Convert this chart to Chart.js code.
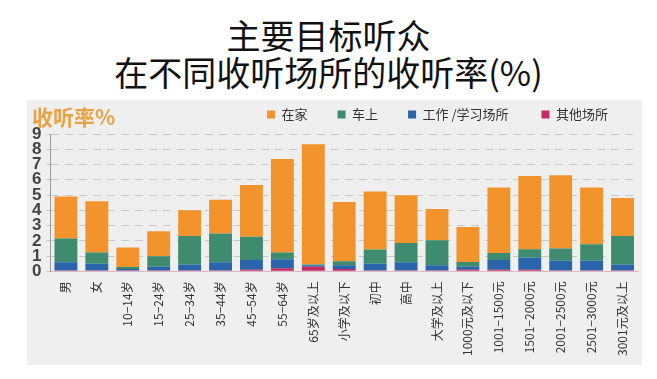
<!DOCTYPE html>
<html>
<head>
<meta charset="utf-8">
<script src="https://cdn.jsdelivr.net/npm/chart.js@4"></script>
<style>
  body { margin: 0; width: 657px; height: 379px; background: #fff; position: relative; overflow: hidden;
         font-family: "Noto Sans CJK SC", "Noto Sans", sans-serif; }
  .t { position: absolute; left: 0; width: 657px; text-align: center; color: #111; font-size: 34px; line-height: 38px; }
  #t1 { top: 16px; }
  #t2 { top: 53px; }
  #panel { position: absolute; left: 27px; top: 100px; width: 615px; height: 265px; background: #efefef; }
  #ylab { position: absolute; left: 32px; top: 101px; font-size: 21px; font-weight: bold; color: #E9A244; }
  #chart { position: absolute; left: 27px; top: 78px; }
</style>
</head>
<body>
<div class="t" id="t1">主要目标听众</div>
<div class="t" id="t2">在不同收听场所的收听率(%)</div>
<div id="panel"></div>
<canvas id="chart" width="615" height="287"></canvas>
<div id="ylab">收听率%</div>
<script>
  const categorias = ['男', '女', '10−14岁', '15−24岁', '25−34岁', '35−44岁', '45−54岁', '55−64岁', '65岁及以上',
    '小学及以下', '初中', '高中', '大学及以上', '1000元及以下', '1001−1500元', '1501−2000元', '2001−2500元', '2501−3000元', '3001元及以上'];
  const outros   = [0.05, 0.05, 0.05, 0.05, 0.05, 0.05, 0.1, 0.2, 0.3, 0.15, 0.05, 0.05, 0.05, 0.1, 0.1, 0.1, 0.05, 0.05, 0.05];
  const trabalho = [0.55, 0.45, 0.1, 0.25, 0.4, 0.55, 0.65, 0.6, 0.1, 0.25, 0.45, 0.55, 0.35, 0.2, 0.65, 0.8, 0.65, 0.65, 0.4];
  const carro    = [1.55, 0.73, 0.13, 0.69, 1.87, 1.88, 1.51, 0.43, 0.05, 0.26, 0.93, 1.26, 1.64, 0.31, 0.45, 0.55, 0.79, 1.08, 1.87];
  const casa     = [2.75, 3.37, 1.28, 1.64, 1.68, 2.22, 3.4, 6.14, 7.88, 3.88, 3.81, 3.12, 2.04, 2.3, 4.3, 4.8, 4.81, 3.72, 2.48];
  const yTicks   = [0, 1, 2, 3, 4, 5, 6, 7, 8, 9];

  // legenda: 在家, 车上, 工作/学习场所, 其他场所 — a pilha vai de baixo (其他) pra cima (在家)
  const series = [
    { label: '在家', data: casa, color: '#F2942B', order: 3 },
    { label: '车上', data: carro, color: '#3E8B6F', order: 2 },
    { label: '工作 /学习场所 ', data: trabalho, color: '#2A64AB', order: 1 },
    { label: '其他场所', data: outros, color: '#C42A62', order: 0 }
  ];

  // deixa um respiro extra entre a legenda e a área do gráfico
  const legendGap = {
    id: 'legendGap',
    beforeLayout(chart) {
      const lg = chart.legend;
      if (!lg || lg._gapPatched) return;
      const fitOrig = lg.fit;
      lg.fit = function () {
        fitOrig.call(this);
        this.height += 3;
      };
      lg._gapPatched = true;
    }
  };

  const ctx = document.getElementById('chart').getContext('2d');
  new Chart(ctx, {
    type: 'bar',
    data: {
      labels: categorias,
      datasets: series.map(s => ({
        label: s.label,
        data: s.data,
        backgroundColor: s.color,
        borderWidth: 0,
        stack: 'a',
        order: s.order,
        barPercentage: 0.74,
        categoryPercentage: 1
      }))
    },
    plugins: [legendGap],
    options: {
      responsive: false,
      animation: false,
      layout: { padding: { top: 0, right: 4, left: 0, bottom: 7 } },
      plugins: {
        tooltip: { enabled: false },
        legend: {
          position: 'top',
          align: 'end',
          labels: {
            boxWidth: 8, boxHeight: 8, padding: 30,
            color: '#333',
            font: { size: 13, lineHeight: 1.7, family: '"Noto Sans CJK SC", sans-serif' },
            sort: (a, b) => a.datasetIndex - b.datasetIndex
          }
        }
      },
      scales: {
        x: {
          stacked: true,
          grid: { display: false },
          border: { color: '#d9b8c4', width: 1 },
          ticks: {
            minRotation: 90, maxRotation: 90, padding: 2,
            color: '#333',
            font: { size: 12, family: '"Noto Sans CJK SC", sans-serif' }
          }
        },
        y: {
          stacked: true,
          min: 0, max: 9,
          afterBuildTicks: axis => { axis.ticks = yTicks.map(v => ({ value: v })); },
          grid: { color: '#c9c9c9', tickLength: 4 },
          border: { color: '#999', width: 1, dash: [8, 6] },
          ticks: {
            autoSkip: false,
            stepSize: 1,
            padding: 5,
            color: '#444',
            font: { size: 17, weight: 'bold', family: '"Liberation Sans", Arial, sans-serif' }
          }
        }
      }
    }
  });
</script>
</body>
</html>
